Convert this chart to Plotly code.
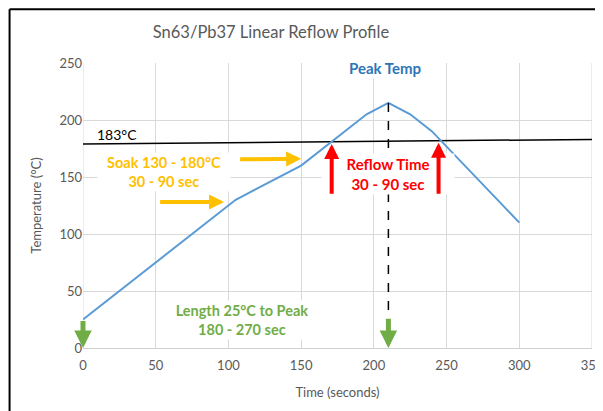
import plotly.graph_objects as go

# Data
time_s = [0, 105, 150, 195, 210, 225, 240, 300]
temp_c = [25, 130, 160, 205, 215, 205, 190, 110]
liquidus_x = [0, 350]
liquidus_y = [179, 183]
peak_x = [210, 210]
peak_y = [215, 0]

title_text = "Sn63/Pb37 Linear Reflow Profile"
x_title = "Time (seconds)"
y_title = "Temperature (°C)"

FONT = "Lato"
GRID = "#d9d9d9"
TICK = "#595959"

fig = go.Figure()
fig.add_trace(go.Scatter(x=liquidus_x, y=liquidus_y, mode="lines",
                         line=dict(color="#000000", width=1.5), hoverinfo="skip"))
fig.add_trace(go.Scatter(x=time_s, y=temp_c, mode="lines",
                         line=dict(color="#5B9BD5", width=2)))
fig.add_trace(go.Scatter(x=peak_x, y=peak_y, mode="lines",
                         line=dict(color="#000000", width=1.5, dash="dash")))

ann = []
def box(x, y, text, color, width=None, size=15):
    d = dict(x=x, y=y, xref="x", yref="y", text=text, showarrow=False,
             font=dict(family=FONT, size=size, color=color),
             bgcolor="white", align="center")
    if width:
        d["width"] = width
    return d

ann.append(dict(x=8.5, y=187.5, xref="x", yref="y", text="183°C", showarrow=False,
                xanchor="left", font=dict(family=FONT, size=14, color="#000000")))
ann.append(box(207.8, 246, "<b>Peak Temp</b>", "#2E75B6", width=108))
ann.append(box(209.8, 152.8, "<b>Reflow Time</b><br><b>30 - 90 sec</b>", "#FF0000", width=130))
ann.append(box(56, 154.6, "<b>Soak 130 - 180°C</b><br><b>30 - 90 sec</b>", "#FFC000", width=130, size=14.5))
ann.append(box(109.3, 24.3, "<b>Length 25°C to Peak</b><br><b>180 - 270 sec</b>", "#70AD47", width=150, size=14.5))

def arrow(x, y, ax, ay, color, w, size):
    return dict(x=x, y=y, ax=ax, ay=ay, xref="x", yref="y", axref="x", ayref="y",
                text="", showarrow=True, arrowhead=2, arrowwidth=w, arrowsize=size,
                arrowcolor=color)

ann.append(arrow(97, 128, 52, 128, "#FFC000", 4, 0.75))
ann.append(arrow(150, 166, 107, 165.5, "#FFC000", 4, 0.75))
ann.append(arrow(171, 179, 171, 134, "#FF0000", 4, 0.75))
ann.append(arrow(244.5, 180, 244.5, 134, "#FF0000", 4, 0.75))
ann.append(arrow(0, 0, 0, 25, "#70AD47", 5, 0.7))
ann.append(arrow(210, 0, 210, 27, "#70AD47", 5, 0.7))

# page offset of 8px (body margin) compensated
L, T, PW, PH = 74.5, 54.7, 509.5, 285.0
bx = (1 - L) / PW          # left border, figure x=1
by = 1 + (T - 1) / PH      # top border, figure y=1
shapes = [
    dict(type="line", xref="paper", yref="paper", x0=bx, x1=1.05, y0=by, y1=by,
         line=dict(color="#000000", width=2)),
    dict(type="line", xref="paper", yref="paper", x0=bx, x1=bx, y0=by, y1=-0.3,
         line=dict(color="#000000", width=2)),
]

fig.update_layout(
    width=595, height=403,
    margin=dict(l=L, r=595 - L - PW, t=T, b=403 - T - PH),
    paper_bgcolor="white", plot_bgcolor="white",
    showlegend=False,
    title=dict(text=title_text, x=263/595, xanchor="center", y=1-24/403, yanchor="middle",
               font=dict(family=FONT, size=16.5, color="#595959")),
    xaxis=dict(range=[0, 350], dtick=50, tick0=0, showgrid=True, gridcolor=GRID, gridwidth=1,
               zeroline=False, showline=True, linecolor="#cfcfcf", linewidth=1, automargin=False,
               ticks="", tickfont=dict(family=FONT, size=13, color=TICK),
               ticklabeloverflow="allow", ticklabelstandoff=5,
               title=dict(text=x_title, font=dict(family=FONT, size=13, color=TICK), standoff=16)),
    yaxis=dict(range=[0, 250], dtick=50, tick0=0, showgrid=True, gridcolor=GRID, gridwidth=1,
               zeroline=False, showline=False, ticks="", automargin=False,
               tickfont=dict(family=FONT, size=13, color=TICK),
               title=dict(text=y_title, font=dict(family=FONT, size=13, color=TICK), standoff=14)),
    annotations=ann, shapes=shapes,
)
fig.add_vline(x=0, line=dict(color=GRID, width=1), layer="below")
fig.add_vline(x=350, line=dict(color=GRID, width=1), layer="below")

fig.write_html("out.html")
